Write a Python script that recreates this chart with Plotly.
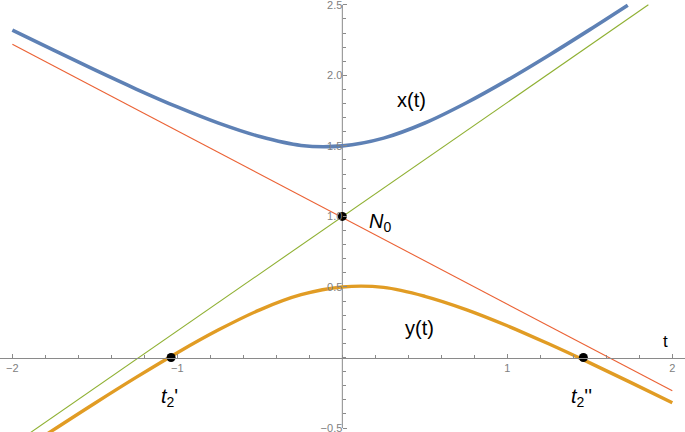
import plotly.graph_objects as go

# ---- data ----
t_x = [-2.0, -1.75, -1.5, -1.25, -1.0, -0.75, -0.5, -0.25, 0.0, 0.25, 0.5, 0.75, 1.0, 1.25, 1.5, 1.73]
x_vals = [2.32, 2.178, 2.038, 1.903, 1.776, 1.661, 1.566, 1.503, 1.5, 1.555, 1.662, 1.804, 1.966, 2.141, 2.324, 2.497]

t_y = [-1.8, -1.5, -1.25, -1.0, -0.75, -0.5, -0.25, 0.0, 0.25, 0.5, 0.75, 1.0, 1.25, 1.5, 1.75, 2.0]
y_vals = [-0.55, -0.324, -0.141, 0.034, 0.196, 0.338, 0.445, 0.5, 0.497, 0.434, 0.340, 0.225, 0.097, -0.038, -0.178, -0.321]

t_red = [-2.0, 2.0]
red_vals = [2.22, -0.236]

t_green = [-1.9, 1.855]
green_vals = [-0.54, 2.5]

pt_t = [0.0, -1.038, 1.461]
pt_v = [1.0, 0.0, 0.0]

x_ticks = [-2, -1, 1, 2]
x_ticklabels = ["\u22122", "\u22121", "1", "2"]
y_ticks = [-0.5, 0.5, 1.0, 1.5, 2.0, 2.5]
y_ticklabels = ["\u22120.5", "0.5", "1.0", "1.5", "2.0", "2.5"]

X_RANGE = [-2.075, 2.077]
Y_RANGE = [-0.528, 2.534]

BLUE = "#5E81B5"
ORANGE = "#E19C24"
GREEN = "#8FB032"
RED = "#EB6235"
AXIS = "#8a8a8a"

fig = go.Figure()
fig.add_trace(go.Scatter(x=t_red, y=red_vals, mode="lines", line=dict(color=RED, width=1.1), hoverinfo="skip"))
fig.add_trace(go.Scatter(x=t_green, y=green_vals, mode="lines", line=dict(color=GREEN, width=1.1), hoverinfo="skip"))
fig.add_trace(go.Scatter(x=t_x, y=x_vals, mode="lines", line=dict(color=BLUE, width=3.6, shape="spline", smoothing=1.0), hoverinfo="skip"))
fig.add_trace(go.Scatter(x=t_y, y=y_vals, mode="lines", line=dict(color=ORANGE, width=3.4, shape="spline", smoothing=1.0), hoverinfo="skip"))
fig.add_trace(go.Scatter(x=pt_t, y=pt_v, mode="markers", marker=dict(color="black", size=9), hoverinfo="skip"))

# y axis line spans only the tick range
fig.add_shape(type="line", xref="x", yref="y", x0=0, x1=0, y0=min(y_ticks), y1=max(y_ticks),
              line=dict(color=AXIS, width=1), layer="below")

xpos = (0 - Y_RANGE[0]) / (Y_RANGE[1] - Y_RANGE[0])
ypos = (0 - X_RANGE[0]) / (X_RANGE[1] - X_RANGE[0])

fig.update_layout(
    width=685, height=432,
    margin=dict(l=0, r=0, t=0, b=0),
    paper_bgcolor="white", plot_bgcolor="white",
    showlegend=False,
    font=dict(family="Liberation Sans, Arial, sans-serif"),
    xaxis=dict(range=X_RANGE, anchor="free", position=xpos, showgrid=False, zeroline=False,
               showline=True, linecolor=AXIS, linewidth=1,
               tickmode="array", tickvals=x_ticks, ticktext=x_ticklabels,
               ticks="inside", ticklen=4, tickcolor=AXIS, tickwidth=1,
               minor=dict(tickmode="linear", tick0=0, dtick=0.2, ticks="inside", ticklen=2.5, tickcolor=AXIS, tickwidth=1, showgrid=False),
               tickfont=dict(size=11, color="#808080"), automargin=False, ticklabeloverflow="allow"),
    yaxis=dict(range=Y_RANGE, anchor="free", position=ypos, showgrid=False, zeroline=False,
               showline=False,
               tickmode="array", tickvals=y_ticks, ticktext=y_ticklabels,
               ticks="inside", ticklen=4, tickcolor=AXIS, tickwidth=1,
               minor=dict(tickmode="linear", tick0=0, dtick=0.1, ticks="inside", ticklen=2.5, tickcolor=AXIS, tickwidth=1, showgrid=False),
               tickfont=dict(size=11, color="#808080"), automargin=False, ticklabeloverflow="allow"),
)

ann_font = dict(family="Liberation Sans, Arial, sans-serif", size=20, color="black")
fig.add_annotation(x=0.42, y=1.825, text="x(t)", showarrow=False, font=ann_font, xanchor="center", yanchor="middle")
fig.add_annotation(x=0.47, y=0.21, text="y(t)", showarrow=False, font=ann_font, xanchor="center", yanchor="middle")
fig.add_annotation(x=0.15, y=0.96, text="<i>N</i><sub>0</sub>", showarrow=False, font=ann_font, xanchor="left", yanchor="middle")
fig.add_annotation(x=-1.05, y=-0.28, text="<i>t</i><sub>2</sub>'", showarrow=False, font=ann_font, xanchor="center", yanchor="middle")
fig.add_annotation(x=1.45, y=-0.28, text="<i>t</i><sub>2</sub>''", showarrow=False, font=ann_font, xanchor="center", yanchor="middle")
fig.add_annotation(x=1.96, y=0.117, text="t", showarrow=False, font=dict(family="Liberation Sans, Arial, sans-serif", size=17, color="black"), xanchor="center", yanchor="middle")

fig.write_html("out.html", config={"displayModeBar": False},
               post_script="document.body.style.margin='0';document.body.style.padding='0';document.body.style.overflow='hidden';")
